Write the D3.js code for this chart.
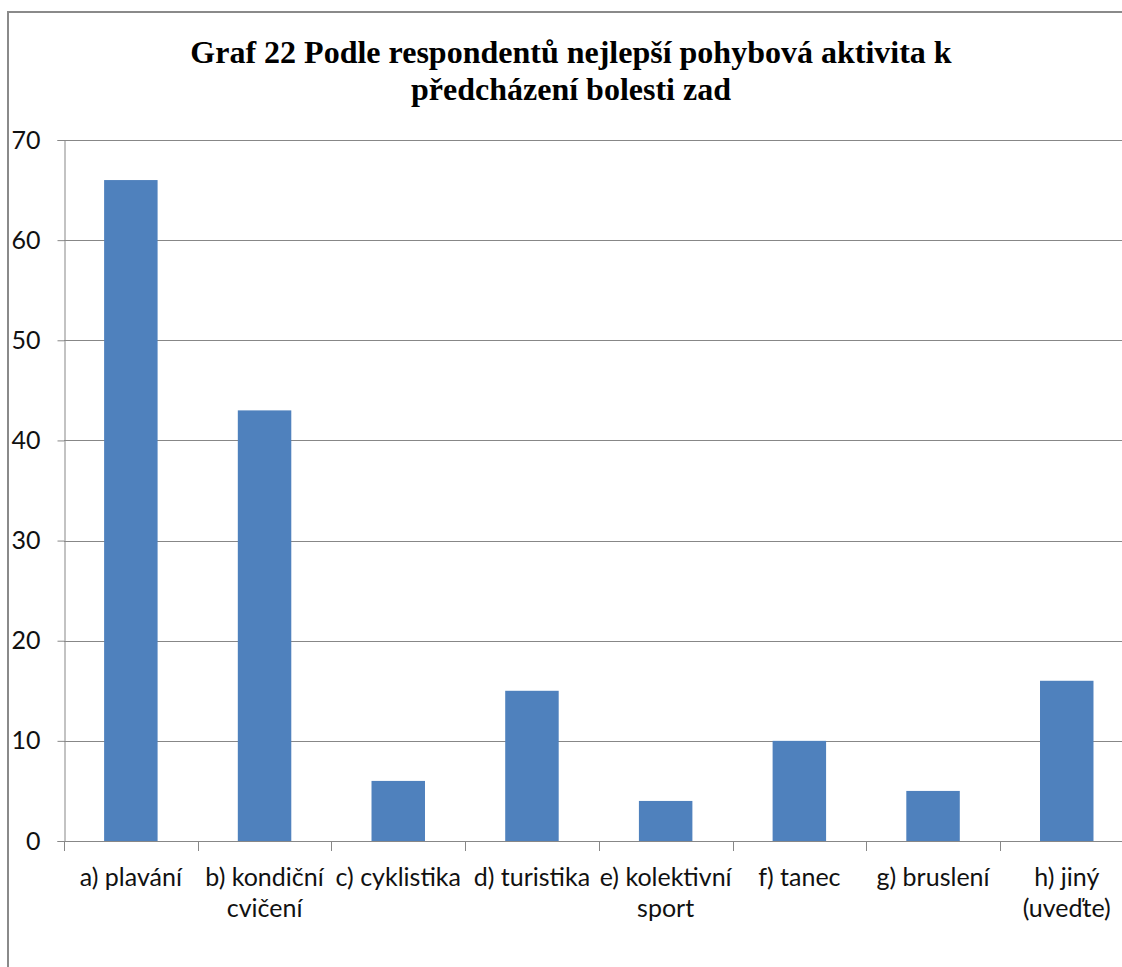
<!DOCTYPE html>
<html><head><meta charset="utf-8">
<script src="https://cdn.jsdelivr.net/npm/d3@7"></script>
<style>html,body{margin:0;padding:0;background:#fff;overflow:hidden}</style>
</head><body>
<svg id="c" width="1122" height="967"></svg>
<script>
const titleLines = ["Graf 22 Podle respondentů nejlepší pohybová aktivita k", "předcházení bolesti zad"];
const categories = ["a) plavání", "b) kondiční\ncvičení", "c) cyklistika", "d) turistika", "e) kolektivní\nsport", "f) tanec", "g) bruslení", "h) jiný\n(uveďte)"];
const values = [66, 43, 6, 15, 4, 10, 5, 16];
const yTicks = [0, 10, 20, 30, 40, 50, 60, 70];

(function() {
const svg = d3.select("#c");
const pLeft = 64, pRight = 64 + 8 * 133.7, pTop = 140, pBottom = 841;
const grid = "#878787";

// chart border (extends beyond the visible area on right and bottom)
svg.append("rect").attr("x", 8).attr("y", 12).attr("width", 1200).attr("height", 1100)
  .attr("fill", "none").attr("stroke", "#8a8a8a").attr("stroke-width", 2);

svg.append("g").selectAll("text").data(titleLines).join("text")
  .attr("x", 571).attr("y", (d, i) => 63 + i * 37)
  .attr("text-anchor", "middle")
  .attr("font-family", "'Liberation Serif','Times New Roman',serif")
  .attr("font-weight", "bold").attr("font-size", 32).attr("fill", "#000")
  .text(d => d);

const x = d3.scaleBand().domain(categories).range([pLeft, pRight]).paddingInner(0.6).paddingOuter(0.3);
const y = d3.scaleLinear().domain([0, 70]).range([pBottom, pTop]);

// gridlines
svg.append("g").selectAll("line").data(yTicks).join("line")
  .attr("x1", pLeft).attr("x2", 1130)
  .attr("y1", d => Math.round(y(d)) + 0.5).attr("y2", d => Math.round(y(d)) + 0.5)
  .attr("stroke", grid).attr("stroke-width", 1);

// y axis
const yAxis = svg.append("g").attr("transform", `translate(${pLeft + 0.5},0)`)
  .call(d3.axisLeft(y).tickValues(yTicks).tickSize(7).tickPadding(17).tickFormat(d3.format("d")));
yAxis.select(".domain").attr("stroke", grid);
yAxis.selectAll(".tick line").attr("stroke", grid);
yAxis.selectAll(".tick text").attr("font-family", "Lato, 'Open Sans', sans-serif")
  .attr("font-size", 25).attr("fill", "#111");

// bars
svg.append("g").selectAll("rect").data(values).join("rect")
  .attr("x", (d, i) => x(categories[i]))
  .attr("y", d => y(d))
  .attr("width", x.bandwidth())
  .attr("height", d => y(0) - y(d))
  .attr("fill", "#4F81BD");

// x axis line and ticks at band boundaries
const step = x.step();
const bounds = d3.range(categories.length + 1).map(i => pLeft + i * step);
svg.append("line").attr("x1", pLeft).attr("x2", 1130)
  .attr("y1", pBottom + 0.5).attr("y2", pBottom + 0.5).attr("stroke", grid);
svg.append("g").selectAll("line").data(bounds).join("line")
  .attr("x1", d => Math.round(d) + 0.5).attr("x2", d => Math.round(d) + 0.5)
  .attr("y1", pBottom).attr("y2", pBottom + 10).attr("stroke", grid);

// category labels
const lab = svg.append("g").selectAll("text").data(categories).join("text")
  .attr("text-anchor", "middle")
  .attr("font-family", "Lato, 'Open Sans', sans-serif")
  .attr("font-size", 25).attr("fill", "#111");
lab.each(function(d) {
  const t = d3.select(this);
  const cx = x(d) + x.bandwidth() / 2;
  d.split("\n").forEach((ln, j) => {
    t.append("tspan").attr("x", cx).attr("y", 886 + j * 31).text(ln);
  });
});
})();
</script>
</body></html>
